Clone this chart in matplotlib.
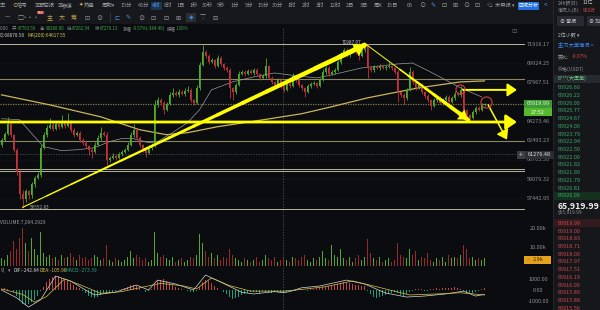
import numpy as np
import matplotlib.pyplot as plt
from matplotlib.patches import Rectangle
from matplotlib.ticker import NullLocator

plt.rcParams['font.family'] = ['Noto Sans CJK SC', 'DejaVu Sans']

W, H = 600, 310

# ---------------- BTC/USDT 4h candles ----------------
first_open = 62100
closes = [
    62573, 63119, 64040, 63028, 61673, 59739, 57781, 57364, 58032, 57698,
    58624, 59221, 59479, 61852, 63028, 63670, 63947, 63578, 64040, 63762,
    64226, 63854, 64226, 63486, 63028, 63211, 62573, 62302, 62031, 61673,
    61494, 62121, 62755, 63211, 63028, 60786, 60962, 61139, 60962, 61316,
    61494, 61673, 62121, 63028, 63486, 62755, 62121, 61673, 61405, 61852,
    62121, 65827, 66306, 66019, 65352, 65923, 66788, 66981, 66788, 67078,
    66885, 67176, 67273, 66306, 66019, 67468, 69754, 71084, 70670, 70058,
    70262, 69653, 70465, 69855, 69451, 69251, 67468, 67078, 67762, 68850,
    69050, 68850, 69150, 68950, 69251, 68850, 68452, 68651, 69653, 68452,
    68058, 67762, 68255, 67664, 67273, 67861, 67664, 68651, 68255, 67762,
    67468, 67078, 67664, 67861, 67959, 67664, 68255, 69050, 69451, 68850,
    69050, 69251, 70058, 70877, 71291, 70773, 71084, 71500, 71084, 70670,
    71291, 71707, 69451, 69251, 69552, 69451, 69653, 69451, 69552, 69653,
    69451, 69050, 67078, 66788, 66498, 67273, 69050, 68058, 67468, 67762,
    67078, 66691, 66306, 65732, 66306, 66498, 66019, 66306, 66595, 66114,
    66498, 66885, 66788, 67273, 65352, 64880, 64599, 65163, 65541, 65352,
    65827, 65919.99,
]
wick_up = [
    150, 200, 650, 120, 100, 150, 200, 350, 200, 150,
    180, 150, 200, 250, 200, 250, 650, 200, 250, 200,
    650, 200, 840, 150, 200, 180, 150, 120, 150, 100,
    150, 200, 250, 550, 200, 200, 150, 200, 120, 150,
    150, 120, 200, 250, 550, 150, 120, 100, 150, 200,
    150, 480, 250, 200, 150, 200, 250, 490, 200, 250,
    200, 250, 390, 150, 100, 250, 300, 730, 250, 200,
    200, 150, 310, 200, 150, 150, 150, 120, 200, 250,
    200, 150, 200, 150, 200, 150, 120, 150, 810, 150,
    150, 120, 200, 150, 120, 200, 150, 250, 200, 150,
    120, 100, 150, 200, 150, 120, 200, 250, 200, 150,
    200, 150, 250, 200, 250, 200, 250, 300, 200, 150,
    250, 310, 200, 150, 200, 150, 200, 150, 200, 400,
    150, 120, 150, 120, 150, 200, 500, 200, 150, 200,
    150, 120, 150, 120, 150, 200, 150, 200, 150, 150,
    200, 250, 150, 400, 120, 100, 120, 200, 150, 200,
    150, 100,
]
wick_dn = [
    200, 150, 150, 200, 250, 300, 400, 740, 250, 300,
    200, 250, 150, 200, 150, 200, 150, 200, 150, 200,
    150, 200, 150, 250, 200, 150, 200, 250, 200, 450,
    530, 150, 150, 200, 150, 440, 200, 150, 200, 150,
    200, 150, 150, 150, 200, 150, 200, 250, 350, 150,
    200, 200, 200, 250, 380, 150, 150, 200, 150, 200,
    150, 200, 150, 250, 190, 150, 200, 150, 250, 200,
    150, 200, 150, 200, 250, 200, 970, 770, 200, 150,
    150, 200, 150, 150, 200, 150, 250, 150, 200, 150,
    200, 250, 150, 200, 250, 150, 200, 150, 200, 250,
    250, 480, 150, 200, 150, 250, 150, 150, 200, 250,
    150, 200, 150, 200, 150, 250, 200, 150, 200, 410,
    150, 200, 1000, 250, 200, 150, 200, 150, 200, 150,
    200, 250, 960, 250, 575, 200, 150, 250, 200, 150,
    250, 200, 200, 380, 150, 200, 150, 200, 150, 200,
    150, 200, 150, 250, 200, 250, 370, 150, 200, 150,
    150, 120,
]
volumes_k = [
    4, 3, 6, 8, 13, 9, 15, 20, 12, 8,
    15, 9, 6, 18, 7, 5, 6, 4, 5, 3,
    6, 4, 5, 7, 5, 3, 6, 4, 5, 3,
    4, 6, 5, 3, 4, 11, 3, 2, 4, 3,
    2, 3, 5, 8, 4, 6, 5, 3, 4, 2,
    3, 18, 7, 5, 6, 4, 3, 5, 2, 3,
    4, 2, 3, 5, 4, 6, 17, 12, 8, 5,
    7, 4, 6, 3, 5, 4, 9, 6, 4, 3,
    2, 4, 3, 2, 3, 5, 2, 3, 6, 4,
    3, 5, 2, 3, 4, 3, 2, 5, 4, 3,
    5, 6, 3, 2, 4, 3, 5, 8, 4, 3,
    11, 6, 5, 9, 4, 3, 5, 2, 4, 6,
    3, 5, 14, 7, 4, 3, 5, 2, 3, 4,
    2, 3, 12, 6, 5, 4, 9, 6, 8, 3,
    5, 4, 7, 3, 2, 4, 3, 5, 2, 6,
    4, 5, 4, 6, 11, 9, 4, 5, 3, 4,
    3, 4,
]
macd_hist = [
    100, 150, 100, 0, -200, -500, -900, -1300, -1400, -1300,
    -1100, -900, -500, -100, 300, 700, 1000, 1200, 1300, 1250,
    1100, 950, 800, 600, 450, 300, 150, -100, -300, -500,
    -650, -700, -600, -450, -300, -350, -250, -150, -100, 0,
    100, 150, 300, 450, 500, 400, 200, 0, -150, -100,
    50, 500, 800, 950, 1000, 850, 650, 450, 300, 200,
    100, 0, -100, -150, -200, -100, 300, 700, 900, 800,
    600, 400, 200, 0, -200, -350, -600, -800, -750, -600,
    -450, -350, -250, -200, -150, -200, -250, -100, -150, -200,
    -250, -200, -150, -200, -250, -150, -100, -50, -100, 50,
    100, 0, -50, 50, 100, 150, 200, 250, 300, 350,
    400, 450, 550, 650, 700, 650, 600, 550, 500, 450,
    400, 350, -100, -400, -600, -700, -650, -550, -450, -350,
    -250, -200, -300, -450, -500, -350, -150, -100, 50, 100,
    50, -50, -100, 50, 100, 150, 100, 150, 200, 150,
    200, 250, 200, 100, -100, -250, -300, -250, -200, -100,
    50, 200,
]
dif_idx = [0, 5, 9, 13, 18, 23, 28, 31, 38, 45, 49, 52, 58, 64, 68, 73, 80, 84,
           91, 94, 96, 100, 106, 115, 121, 128, 135, 141, 148, 154, 158, 161]
dif_val = [0, -700, -1550, -900, 1270, 820, 0, -450, -200, 450, 0, 900, 550, 0,
           1360, 730, -200, -360, -150, -243, -150, 200, 360, 900, 550, -270,
           -640, -550, -360, -100, -550, -400]
dea_idx = [0, 7, 11, 15, 21, 26, 33, 40, 46, 53, 60, 65, 70, 76, 83, 94, 100,
           108, 117, 125, 136, 146, 153, 161]
dea_val = [100, -400, -1100, -600, 1000, 500, -300, -150, 200, 600, 400, 100,
           1100, 400, -100, -106, 50, 300, 820, 300, -450, -350, -250, -450]

ma_fast_idx = [0, 6, 11, 14, 20, 26, 31, 36, 40, 44, 49, 52, 57, 62, 66, 70, 77,
               84, 91, 96, 105, 110, 120, 132, 137, 143, 153, 160]
ma_fast_val = [64506, 64412, 62846, 61941, 61583, 61673, 61852, 62392, 62664,
               62664, 62302, 62392, 63211, 64133, 65352, 67273, 68058, 68552,
               68950, 68751, 68452, 68751, 69451, 69856, 69956, 69050, 67468,
               66595]
ma200_idx = [0, 16, 33, 46, 55, 62, 72, 83, 100, 110, 122, 139, 153, 161]
ma200_val = [66788, 65827, 64692, 63486, 63028, 63211, 63762, 64226, 64974,
             65637, 66498, 67468, 68058, 68157]

price_ticks = [71916.17, 69924.25, 67967.51, 64273.46, 62493.23, 60763.30,
               59079.32, 57442.95]
olive_levels = [68300, 62493.23]
light_levels = [71916.17, 59956, 59783, 56579]
last_price = 65919.99
cross_price = 61276.48
cross_idx = 93.8

asks = ['65926.60', '65926.22', '65926.00', '65925.77', '65924.67', '65924.00',
        '65923.79', '65922.94', '65922.50', '65922.00', '65921.82', '65921.80',
        '65921.79', '65920.81', '65920.00']
bids = ['65919.99', '65919.00', '65918.83', '65918.71', '65918.00', '65917.97',
        '65917.51', '65916.19', '65916.00', '65915.89', '65915.88', '65915.56']

periods = ['15分', '45分', '4时', '8时', '1日', '1秒', '30秒', '5秒', '1分', '5分',
           '15分', '30分', '1时', '2时', '3时', '12时', '2日', '3日', '周K', '15日']

# ---------------- colours ----------------
BG = '#0b0c0f'
BAR = '#16181c'
PANEL = '#15171a'
GREEN = '#4fae2c'
RED = '#c5323a'
AXTXT = '#8b8e94'
OLIVE = '#8a875c'
LIGHT = '#b9b79c'
YEL = '#ffff00'
BOOK_G = '#3aa866'
BOOK_R = '#d4464b'


def fx(px):
    return px / W


def fy(py):
    return 1 - py / H


def frect(x0, y0, x1, y1, color, z=0.5):
    fig.add_artist(Rectangle((fx(x0), fy(y1)), (x1 - x0) / W, (y1 - y0) / H,
                             transform=fig.transFigure, facecolor=color,
                             edgecolor='none', zorder=z))


def ftext(x, y, s, color, size=4.3, ha='left', weight='normal', z=5):
    fig.text(fx(x), fy(y), s, color=color, fontsize=size, ha=ha, va='center',
             weight=weight, zorder=z)


fig = plt.figure(figsize=(6, 3.1), dpi=100, facecolor=BG)

ax = fig.add_axes([0, fy(213), fx(525), 185 / H])
axv = fig.add_axes([0, fy(266), fx(525), 53 / H])
axm = fig.add_axes([0, 0, fx(525), 44 / H])
for a in (ax, axv, axm):
    a.set_facecolor(BG)
    for s in a.spines.values():
        s.set_visible(False)
    a.set_xlim(-0.5, 174.5)
    a.axvline(cross_idx, color='#5a5d63', lw=0.5, ls=(0, (2, 2)), zorder=1)

ax.set_yscale('log')
ax.set_ylim(56240, 73610)
axv.set_ylim(0, 27.9)
axm.set_ylim(-1818, 2182)
for a in (ax, axv, axm):
    a.xaxis.set_major_locator(NullLocator())
    a.xaxis.set_minor_locator(NullLocator())
    a.yaxis.set_major_locator(NullLocator())
    a.yaxis.set_minor_locator(NullLocator())

# ---------------- main price panel ----------------
n = len(closes)
idx = np.arange(n)
c = np.array(closes, dtype=float)
o = np.array([first_open] + closes[:-1], dtype=float)
hi = np.maximum(o, c) + np.array(wick_up)
lo = np.minimum(o, c) - np.array(wick_dn)
cols = np.where(c >= o, GREEN, RED)

for p in price_ticks:
    ax.axhline(p, color='#14161a', lw=0.5, zorder=0)
for p in olive_levels:
    ax.axhline(p, color=OLIVE, lw=0.8, zorder=1)
for p in light_levels:
    ax.axhline(p, color=LIGHT, lw=0.7, zorder=1)
ax.axhline(last_price, color='#7d7a4c', lw=0.9, ls=(0, (1, 1)), zorder=1)
ax.axhline(cross_price, color='#55585e', lw=0.5, ls=(0, (2, 2)), zorder=1)

ax.plot(ma200_idx, ma200_val, color='#c9b45a', lw=0.9, zorder=2)
ax.plot(ma_fast_idx, ma_fast_val, color='#9a9a9a', lw=0.5, zorder=2)

ax.vlines(idx, lo, hi, colors=cols, lw=0.6, zorder=3)
ax.bar(idx, np.maximum(np.abs(c - o), 30), bottom=np.minimum(o, c), width=0.62,
       color=cols, lw=0, zorder=3)


def taper(p0, p1, w0, w1, nseg=14):
    xs = np.linspace(p0[0], p1[0], nseg + 1)
    ys = np.exp(np.linspace(np.log(p0[1]), np.log(p1[1]), nseg + 1))
    ws = np.linspace(w0, w1, nseg)
    for k in range(nseg):
        ax.plot(xs[k:k + 2], ys[k:k + 2], color=YEL, lw=ws[k],
                solid_capstyle='round', zorder=6)


def head(p0, p1, size, lw=0.1):
    ax.annotate('', xy=p1, xytext=p0, zorder=7,
                arrowprops=dict(arrowstyle='-|>,head_length=0.8,head_width=0.55',
                                color=YEL, lw=lw, mutation_scale=size,
                                shrinkA=0, shrinkB=0))


# drawn trend arrows
trend_up = [(7, 56700), (121, 71800)]
trend_dn = [(121.8, 71812), (132.8, 69300), (155.5, 64412)]
support = [(-1, 64200), (171.8, 64200)]
resist = [(153.8, 67273), (171.8, 67273)]
drop = [(162.2, 65827), (168.5, 62573)]

taper(trend_up[0], trend_up[1], 0.8, 3.6)
head((114, 70600), trend_up[1], 9)
ax.plot([trend_dn[0][0], trend_dn[1][0]], [trend_dn[0][1], trend_dn[1][1]],
        color=YEL, lw=0.7, zorder=6)
taper(trend_dn[1], trend_dn[2], 1.2, 3.0, nseg=8)
head(trend_dn[1], trend_dn[2], 8)
head(support[0], support[1], 8, lw=2.0)
head(resist[0], resist[1], 7, lw=1.4)
head(drop[0], drop[1], 7, lw=1.1)

ax.plot([152.8], [67370], marker='o', ms=6.5, mfc='none', mec='#d84040', mew=0.8, zorder=8)
ax.plot([161.5], [66114], marker='o', ms=8, mfc='none', mec='#d84040', mew=0.8, zorder=8)

ax.text(116.8, 72120, '71987.07', color='#c8c8c8', fontsize=3.4, ha='center',
        va='center', zorder=8)
ax.text(9.5, 56700, '56552.83', color='#b0b0b0', fontsize=3.4, ha='left',
        va='center', zorder=8)

ytr = ax.get_yaxis_transform()
for p in price_ticks:
    ax.text(1.025, p, f'{p:.2f}', transform=ytr, color=AXTXT, fontsize=4.0,
            ha='center', va='center', clip_on=False, zorder=2)

# price boxes on the axis
frect(524, 100, 552, 107.5, '#3e9a34', z=6)
ftext(538, 103.8, '65919.99', '#dff5d6', size=4.0, ha='center', z=7)
frect(524, 108.3, 552, 115.8, '#56b82e', z=6)
ftext(538, 112, '27:52', '#f2ffe8', size=4.0, ha='center', z=7)
frect(517, 151.2, 524.5, 158.8, '#3a3d43', z=6)
ftext(520.8, 154.9, '+', '#d0d0d0', size=5, ha='center', z=7)
frect(525, 151.2, 553, 158.8, '#2c2f34', z=6)
ftext(539, 155, '61276.48', '#d6d6d6', size=4.0, ha='center', z=7)

# ---------------- volume ----------------
vcols = np.where(c >= o, '#56a62c', '#952a2c')
axv.bar(idx, volumes_k, width=0.62, color=vcols, lw=0, zorder=2)
yv = axv.get_yaxis_transform()
for v, s in [(20, '20.00k'), (10, '10.00k')]:
    axv.text(1.025, v, s, transform=yv, color=AXTXT, fontsize=4.0,
             ha='center', va='center', clip_on=False)
frect(524, 255.8, 551, 263.5, '#e3a21a', z=6)
ftext(527, 259.6, '–', '#3a2600', size=3.6, z=7)
ftext(538, 259.6, '2.9k', '#3a2600', size=4.0, ha='center', z=7)
ftext(0.5, 222.5, 'VOLUME:7,094.2929', '#9a9da3', size=3.5)

# ---------------- MACD ----------------
mcols = np.where(np.array(macd_hist) >= 0, '#c04846', '#1f9f78')
axm.bar(idx, macd_hist, width=0.65, color=mcols, lw=0, zorder=2)
axm.plot(dif_idx, dif_val, color='#d6d6d6', lw=0.5, zorder=3)
axm.plot(dea_idx, dea_val, color='#d9c24a', lw=0.5, zorder=3)
ym = axm.get_yaxis_transform()
for v, s in [(1000, '1000.00'), (0, '0.00'), (-1000, '-1000.00')]:
    axm.text(1.025, v, s, transform=ym, color=AXTXT, fontsize=4.0,
             ha='center', va='center', clip_on=False)
ftext(0.5, 270.5, '9)', '#9a9da3', size=3.5)
ftext(8, 270.5, '▾', '#9a9da3', size=3.5)
ftext(13, 270.5, 'DIF:-242.84', '#d6d6d6', size=3.5)
ftext(40, 270.5, 'DEA:-105.96', '#d9c24a', size=3.5)
ftext(66, 270.5, 'MACD:-273.39', '#26a37c', size=3.5)

# panel separators
for yy in (213.5, 265.5):
    frect(0, yy, 553, yy + 0.6, '#1c1e22', z=0.8)

# ---------------- top toolbar & info rows ----------------
frect(0, 0, 553, 24, BAR, z=0.5)
frect(0, 10.5, 553, 11, '#202226', z=0.6)
TB = '#9a9da3'
for x, s in [(0, '率'), (12, '⊙'), (17, '信号'), (34, '▣'), (39, '百简报'),
             (57, '▣'), (62, '参谋'), (79, '✦'), (84, '热盘'), (102, '周期▾')]:
    ftext(x, 5.3, s, '#c9a64a' if s in ('⊙', '✦') else TB, size=3.9)
px_per = [126, 144, 156, 168, 181, 194, 208, 221, 235, 249, 263, 278, 292,
          306, 320, 335, 350, 364, 378, 392]
for x, s in zip(px_per, periods):
    if s == '4时':
        frect(150.5, 1.5, 161.5, 9.5, '#1d3552', z=0.7)
        ftext(x, 5.3, s, '#4b9cf5', size=3.9, ha='center')
    else:
        ftext(x, 5.3, s, TB, size=3.9, ha='center')
ftext(410, 5.3, '06', TB, size=3.9, ha='center')
for x, s in [(422, '⊙'), (433, '✎'), (444, '⊡'), (455, '⊞'), (466, '⊙'), (477, '⊡')]:
    ftext(x, 5.3, s, '#4b9cf5' if s == '✎' else TB, size=4.4, ha='center')
ftext(490, 5.3, '☁', TB, size=4.2, ha='center')
ftext(495, 5.3, '未申报 ▾', TB, size=3.8)
frect(518, 1.5, 539, 9.5, '#1f6fe0', z=0.7)
ftext(528.5, 5.3, '区域分析', '#ffffff', size=3.6, ha='center')
ftext(546, 5.3, '<', '#4b9cf5', size=4.6, ha='center')

icons = [(7, '—'), (20, '□'), (31, '···'), (50, '主'), (62, '大'), (74, '筹'),
         (87, '⊡'), (99, '⊘'), (117, '⊏'), (128, '✎'), (141, '⊘'), (153, '⊡'),
         (166, '⊡'), (178, '⊞'), (191, '◈'), (203, '▽'), (215, '⊟')]
for x, s in icons:
    colr = '#c9a64a' if s in ('主', '大', '筹') else TB
    if s in ('⊏', '✎'):
        colr = '#4b9cf5'
    if s == '◈':
        frect(186, 12.5, 196, 22, '#2a2e35', z=0.7)
        colr = '#4b9cf5'
    ftext(x, 17.5, s, colr, size=4.4, ha='center')
frect(37, 11.3, 44, 13.9, '#d23c3c', z=0.7)
ftext(40.5, 12.6, 'NEW', '#ffffff', size=1.8, ha='center')
frect(110, 13, 110.6, 22, '#33363c', z=0.7)

info = [(0, '0:00', '#8a8d93'), (12, '开', '#8a8d93'), (18, '67763.59', '#3fa84a'),
        (40, '高', '#8a8d93'), (46, '68280.00', '#3fa84a'), (67, '低', '#8a8d93'),
        (72, '67262.34', '#3fa84a'), (95, '收', '#8a8d93'), (100, '67279.13', '#3fa84a'),
        (123, '涨幅', '#8a8d93'), (133, '-0.57%(-384.46)', '#3fa84a'),
        (167, '振幅', '#8a8d93'), (176, '1.50%', '#3fa84a')]
for x, s, colr in info:
    ftext(x, 28.5, s, colr, size=3.2)
ftext(0, 35.5, '0):68878.58', '#c8c8c8', size=3.4)
ftext(28, 35.5, 'MA(200):64617.55', '#d9c85a', size=3.4)
ftext(514, 31, '⊡', '#6a6d73', size=4.6, ha='center')

# ---------------- right order-book panel ----------------
frect(553, 0, 600, 310, PANEL, z=0.5)
frect(553, 0, 554, 310, '#23262b', z=0.6)
ftext(558, 3, '24h额(B):', '#8a8d93', size=3.5)
ftext(583, 3, '11亿', '#d0d0d0', size=3.5)
ftext(558, 10, '净流入(B):', '#8a8d93', size=3.5)
ftext(583, 10, '960万', BOOK_R, size=3.5)
frect(557, 16.5, 584, 25.5, '#272a30', z=0.7)
frect(587, 16.5, 602, 25.5, '#272a30', z=0.7)
ftext(560, 21, '⊕ 警报', '#c8c8c8', size=3.6)
ftext(589, 21, '⊕ 加', '#c8c8c8', size=3.6)
frect(554, 28.5, 600, 29.1, '#23262b', z=0.6)
ftext(558, 35.5, '2位小数 ▾', '#b0b3b8', size=3.6)
ftext(558, 45.5, '主力大单情况 >', '#3d8bfd', size=3.8)
ftext(558, 57, '委比:', '#8a8d93', size=3.6)
ftext(572, 57, '-0.07%', BOOK_R, size=3.6)
ftext(558, 69.5, '价格(USDT)', '#8a8d93', size=3.6)
frect(554, 74.5, 600, 82.8, '#262a2f', z=0.7)
ftext(558, 78.7, '6***(大压单)', '#6fcf8a', size=3.7)
for k, s in enumerate(asks):
    y = 87.7 + 7.72 * k
    if k == len(asks) - 1:
        frect(554, y - 3.9, 600, y + 3.9, '#15301f', z=0.7)
    ftext(558, y, s, BOOK_G, size=4.0)
ftext(557.5, 205.5, '65,919.99', '#f2f2f2', size=6.2, weight='bold')
ftext(558, 212.8, '$65,919.99', '#8a8d93', size=3.5)
frect(554, 217.5, 600, 218, '#23262b', z=0.6)
for k, s in enumerate(bids):
    y = 223.3 + 7.72 * k
    if k == 0:
        frect(554, y - 3.9, 600, y + 3.9, '#331a1c', z=0.7)
    ftext(558, y, s, BOOK_R, size=4.0)

fig.savefig('out.png', dpi=100, facecolor=BG)
